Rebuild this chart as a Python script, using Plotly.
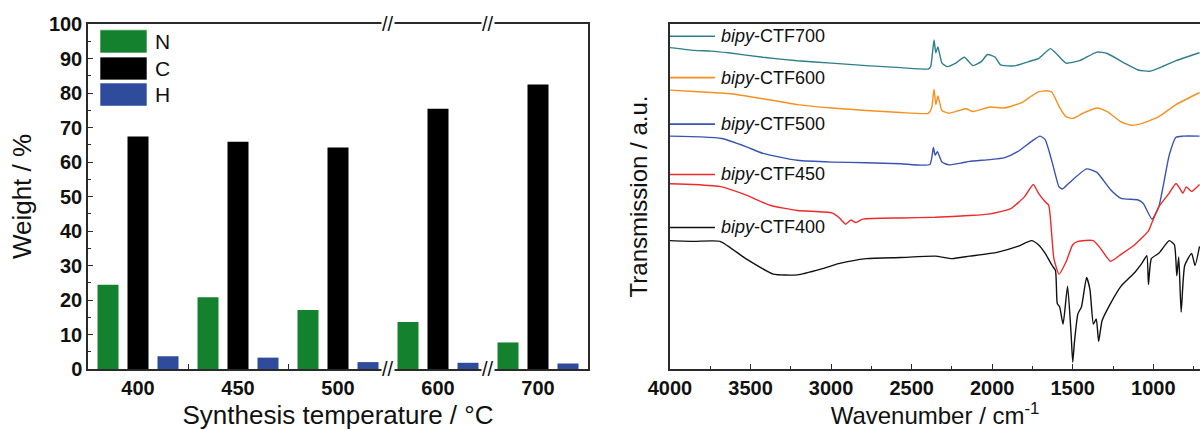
import plotly.graph_objects as go

# ---------------- Left panel data (elemental analysis) ----------------
temperatures = ["400", "450", "500", "600", "700"]
weight_N = [24.4, 20.8, 17.1, 13.6, 7.7]
weight_C = [67.4, 65.9, 64.2, 75.4, 82.5]
weight_H = [3.7, 3.3, 2.0, 1.8, 1.6]

# ---------------- Right panel data (IR spectra, transmission a.u.) ----------------
wn_700 = [4000, 3850, 3744, 3637, 3423, 3209, 2996, 2782, 2568, 2397, 2382, 2361, 2350, 2337, 2312,
          2280, 2226, 2173, 2119, 2066, 2030, 2002, 1981, 1948, 1863, 1756, 1713, 1639, 1607, 1542,
          1457, 1350, 1286, 1179, 1094, 1019, 944, 859, 713]
tr_700 = [320.5, 317.7, 317, 315.3, 310.8, 307.4, 305, 302.5, 300.5, 299.1, 301.5, 328, 315.3, 321.1, 305,
          301.5, 305, 310.8, 302.5, 306.7, 313.6, 312.5, 310.8, 303.2, 302.2, 307.4, 309.4, 319.4, 315.3, 305,
          307.4, 316, 314.6, 305, 298.1, 297, 301.5, 307.4, 315.3]

wn_600 = [4000, 3850, 3744, 3637, 3423, 3209, 2996, 2782, 2568, 2397, 2376, 2361, 2350, 2337, 2312,
          2269, 2205, 2162, 2119, 2013, 1927, 1820, 1756, 1713, 1660, 1628, 1585, 1542, 1500, 1436,
          1350, 1286, 1200, 1137, 1072, 966, 859, 713]
tr_600 = [278.1, 276.7, 275.7, 274.7, 269.5, 263.6, 260.2, 257.8, 255.7, 255, 260.2, 279.1, 263.6, 272.2, 257.8,
          255, 257.8, 259.5, 256.7, 261.2, 260.2, 265.4, 272.2, 276.4, 277.4, 275.7, 261.9, 251.6, 249.9, 255,
          260.2, 256.7, 246.4, 243, 244.7, 251.6, 263.6, 275.7]

wn_500 = [4000, 3808, 3679, 3530, 3423, 3209, 2996, 2782, 2568, 2387, 2365, 2354, 2340, 2312, 2269,
          2184, 2141, 2013, 1927, 1842, 1756, 1703, 1671, 1628, 1585, 1564, 1521, 1414, 1350, 1265,
          1200, 1094, 1062, 1008, 966, 901, 859, 816, 713]
tr_500 = [232.2, 231.5, 229.8, 221.8, 215, 208.1, 206.3, 205.7, 204.6, 203.9, 220.8, 213.2, 216.7, 206.3, 203.6,
          205.7, 207, 208.8, 210.5, 216.7, 227, 232.2, 228.7, 206.3, 181.6, 179.5, 185.7, 199.5, 196, 178.8,
          170.2, 168.5, 165, 149.5, 161.6, 213.2, 231.1, 232.2, 232.2]

wn_450 = [4000, 3850, 3679, 3530, 3380, 3209, 2996, 2953, 2910, 2878, 2846, 2803, 2568, 2354, 2141,
          2013, 1884, 1799, 1745, 1713, 1671, 1649, 1617, 1585, 1542, 1500, 1468, 1372, 1329, 1265,
          1200, 1115, 1030, 1008, 966, 901, 859, 837, 816, 795, 762, 713]
tr_450 = [184.7, 184, 181.6, 173.6, 163.3, 158.1, 155.7, 151.3, 144.4, 148.5, 146.1, 149.5, 150.6, 151.3, 153,
          154.7, 159.9, 171.9, 184, 175.4, 166.7, 163.3, 110.1, 94.6, 106.7, 123.9, 127.3, 128, 120.5, 107.4,
          114.3, 123.9, 137.7, 146, 161.6, 175.4, 185, 180.5, 175.4, 181.6, 177.1, 184]

wn_400 = [4000, 3850, 3690, 3530, 3359, 3209, 3060, 2953, 2782, 2568, 2354, 2248, 2141, 1970, 1842,
          1756, 1713, 1671, 1628, 1607, 1596, 1581, 1560, 1532, 1510, 1500, 1489, 1468, 1446, 1414,
          1393, 1372, 1354, 1339, 1318, 1265, 1200, 1158, 1115, 1072, 1040, 1030, 1012, 966, 901,
          869, 854, 842, 827, 805, 762, 741, 713]
tr_400 = [128, 127.3, 127.3, 110.1, 94.6, 93.9, 99.8, 105, 110.1, 111.2, 112.5, 110.1, 112.5, 116.3, 122.2,
          128, 123.9, 115.3, 103.2, 98.1, 65.4, 61.9, 44.7, 82.6, 34.4, 6.8, 27.5, 55, 61.9, 91.2,
          79.1, 44.7, 49.9, 27.5, 48.1, 65.4, 82.6, 89.5, 96.3, 105, 112.9, 84.3, 110.1, 115.3, 128,
          123.9, 92.9, 111.8, 56.7, 103.2, 115.3, 103.2, 122.2]

spectra_names = ["bipy-CTF700", "bipy-CTF600", "bipy-CTF500", "bipy-CTF450", "bipy-CTF400"]
legend_levels = [331.8, 290.5, 244.2, 194.0, 141.1]

# ---------------- Styles ----------------
GREEN = "#14812f"
BLACK = "#000000"
BLUE = "#2f4b9b"
spec_colors = ["#2d7f8a", "#f7901e", "#3a52b0", "#ee2a2a", "#111111"]
FONT = "Liberation Sans, Arial, sans-serif"
AXIS_COLOR = "#2a2a2a"

fig = go.Figure()

for name, vals, col in [("N", weight_N, GREEN), ("C", weight_C, BLACK), ("H", weight_H, BLUE)]:
    fig.add_trace(go.Bar(x=temperatures, y=vals, name=name, marker=dict(color=col, line=dict(width=0)),
                         xaxis="x", yaxis="y", showlegend=False))

spectra = [(wn_700, tr_700), (wn_600, tr_600), (wn_500, tr_500), (wn_450, tr_450), (wn_400, tr_400)]
for (wn, tr), name, col in zip(spectra, spectra_names, spec_colors):
    fig.add_trace(go.Scatter(x=wn, y=tr, mode="lines", name=name,
                             line=dict(color=col, width=1.4, shape="spline", smoothing=0.5),
                             xaxis="x2", yaxis="y2", showlegend=False))

tickfont = dict(family=FONT, size=20, color="#111", weight="bold")
titlefont_left = dict(family=FONT, size=26, color="#111")
titlefont = dict(family=FONT, size=24, color="#111")

fig.update_layout(
    width=1200, height=430,
    margin=dict(l=0, r=0, t=24, b=61),
    paper_bgcolor="white", plot_bgcolor="white",
    barmode="group", bargap=0.1, bargroupgap=0.3,
    xaxis=dict(domain=[88/1200, 588/1200], type="category", range=[-0.5, 4.5], automargin=False,
               showline=True, linecolor=AXIS_COLOR, linewidth=1.5, mirror=True,
               ticks="inside", tickson="boundaries", ticklen=5, tickcolor=AXIS_COLOR,
               tickfont=tickfont, showgrid=False, zeroline=False,
               title=dict(text="Synthesis temperature / °C", font=titlefont_left, standoff=8)),
    yaxis=dict(domain=[0, 1], range=[0, 100], dtick=10, automargin=False,
               showline=True, linecolor=AXIS_COLOR, linewidth=1.5, mirror=True,
               ticks="inside", ticklen=5, tickcolor=AXIS_COLOR, tickfont=tickfont,
               minor=dict(ticks="inside", ticklen=3, dtick=5, tickcolor=AXIS_COLOR),
               showgrid=False, zeroline=False,
               title=dict(text="Weight / %", font=titlefont_left, standoff=10)),
    xaxis2=dict(domain=[670/1200, 1.0], range=[4000, 710], anchor="y2", dtick=500, automargin=False,
                showline=True, linecolor=AXIS_COLOR, linewidth=1.5, mirror=True,
                ticks="inside", ticklen=5, tickcolor=AXIS_COLOR, tickfont=tickfont,
                minor=dict(ticks="inside", ticklen=3, dtick=250, tickcolor=AXIS_COLOR),
                showgrid=False, zeroline=False,
                title=dict(text="Wavenumber / cm<sup>-1</sup>", font=titlefont, standoff=9)),
    yaxis2=dict(domain=[0, 1], range=[0, 344], anchor="x2", automargin=False,
                showline=True, linecolor=AXIS_COLOR, linewidth=1.5,
                ticks="", showticklabels=False, showgrid=False, zeroline=False,
                title=dict(text="Transmission / a.u.", font=titlefont, standoff=14)),
)

# Left legend (large swatches)
leg_rows = [("N", GREEN, 0.983, 0.916), ("C", BLACK, 0.904, 0.838), ("H", BLUE, 0.829, 0.762)]
for lab, col, y1, y0 in leg_rows:
    fig.add_shape(type="rect", xref="x domain", yref="y domain", x0=0.024, x1=0.118, y0=y0, y1=y1,
                  fillcolor=col, line=dict(color="rgba(255,255,255,0.6)", width=1))
    fig.add_annotation(xref="x domain", yref="y domain", x=0.13, y=(y0 + y1) / 2, text=lab,
                       showarrow=False, xanchor="left", yanchor="middle",
                       font=dict(family=FONT, size=21, color="#111"))

# Axis break marks
for xb in [2.5, 3.5]:
    for yb in [0, 1]:
        fig.add_annotation(xref="x", yref="y domain", x=xb, y=yb, text="//", showarrow=False,
                           xanchor="center", yanchor="middle", bgcolor="white", borderpad=0,
                           font=dict(family=FONT, size=20, color="#111"))

# Right legend (line sample + label placed above each curve)
for name, col, lvl in zip(spectra_names, spec_colors, legend_levels):
    fig.add_shape(type="line", xref="x2", yref="y2", x0=4000, x1=3721, y0=lvl, y1=lvl,
                  line=dict(color=col, width=1.6))
    pre, post = name.split("-")
    fig.add_annotation(xref="x2", yref="y2", x=3695, y=lvl, text=f"<i>{pre}</i>-{post}",
                       showarrow=False, xanchor="left", yanchor="middle",
                       font=dict(family=FONT, size=18, color="#111"))

fig.write_html("out.html")
